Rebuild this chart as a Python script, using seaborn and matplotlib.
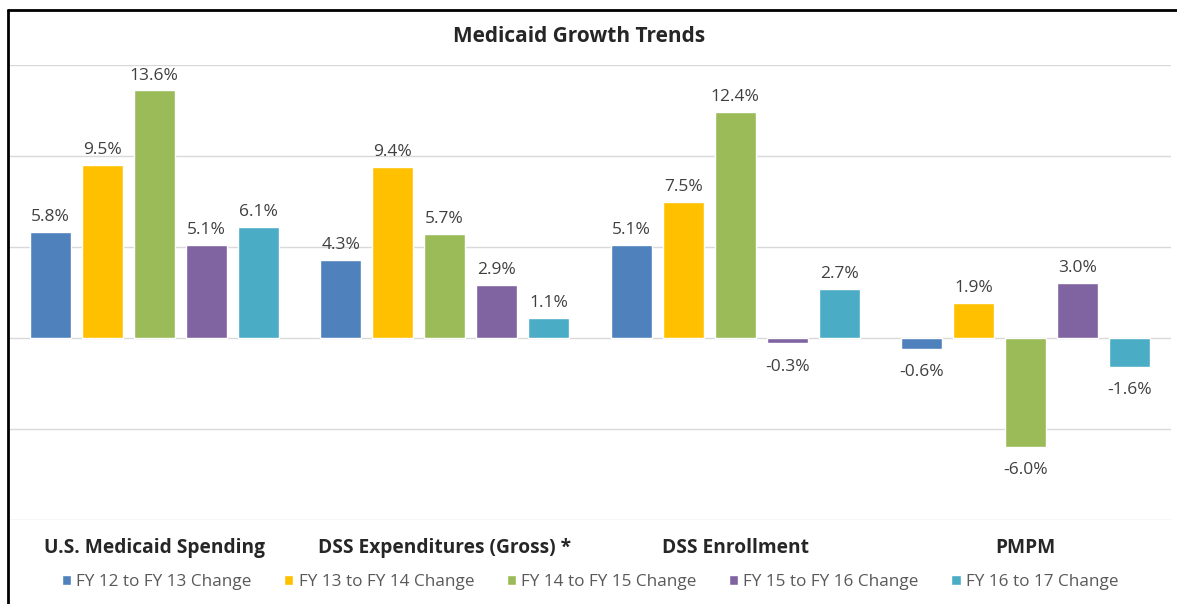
import pandas as pd
import matplotlib
matplotlib.use("Agg")
import matplotlib.pyplot as plt
from matplotlib.lines import Line2D
import seaborn as sns

# Données
categories = ["U.S. Medicaid Spending", "DSS Expenditures (Gross) *", "DSS Enrollment", "PMPM"]
periods = ["FY 12 to FY 13 Change", "FY 13 to FY 14 Change", "FY 14 to FY 15 Change",
           "FY 15 to FY 16 Change", "FY 16 to 17 Change"]
fy12_13 = [5.8, 4.3, 5.1, -0.6]
fy13_14 = [9.5, 9.4, 7.5, 1.9]
fy14_15 = [13.6, 5.7, 12.4, -6.0]
fy15_16 = [5.1, 2.9, -0.3, 3.0]
fy16_17 = [6.1, 1.1, 2.7, -1.6]
colors = ["#4F81BD", "#FFC000", "#9BBB59", "#8064A2", "#4BACC6"]

series = [fy12_13, fy13_14, fy14_15, fy15_16, fy16_17]
rows = []
for p, vals in zip(periods, series):
    for c, v in zip(categories, vals):
        rows.append({"category": c, "period": p, "value": v})
df = pd.DataFrame(rows)

sns.set_style("white")
plt.rcParams["font.family"] = ["Open Sans", "DejaVu Sans"]

W, H = 1177, 604
fig = plt.figure(figsize=(W / 100, H / 100), dpi=100)
ax = fig.add_axes([9 / W, 1 - 520 / H, (1171 - 9) / W, (520 - 65) / H])

sns.barplot(data=df, x="category", y="value", hue="period", order=categories,
            hue_order=periods, palette=colors, saturation=1, width=0.894, gap=0.21,
            ax=ax, legend=True)

# Étiquettes de données (au-dessus pour les positifs, plus bas pour les négatifs)
for cont, vals in zip(ax.containers, series):
    pos = [f"{v:.1f}%" if v >= 0 else "" for v in vals]
    neg = [f"{v:.1f}%" if v < 0 else "" for v in vals]
    ax.bar_label(cont, labels=pos, padding=5, fontsize=12.5, color="#404040")
    ax.bar_label(cont, labels=neg, padding=11, fontsize=12.5, color="#404040")

ax.set_ylim(-10, 15)
ax.set_xlim(-0.5, 3.5)
ax.set_yticks([-10, -5, 0, 5, 10, 15])
ax.set_yticklabels([])
ax.tick_params(axis="y", length=0)
ax.tick_params(axis="x", length=0, pad=13)
ax.yaxis.grid(True, color="#D9D9D9", linewidth=1)
ax.set_axisbelow(True)
for s in ax.spines.values():
    s.set_visible(False)
ax.set_xlabel("")
ax.set_ylabel("")
for lab in ax.get_xticklabels():
    lab.set_fontweight("bold")
    lab.set_fontsize(13.8)
    lab.set_color("#262626")

# Titre
fig.text(579 / W, 1 - 36 / H, "Medicaid Growth Trends", ha="center", va="center",
         fontsize=15, fontweight="bold", color="#262626")

# Légende en bas
handles, labels = ax.get_legend_handles_labels()
ax.get_legend().remove()
fig.legend(handles, labels, loc="center", bbox_to_anchor=(590 / W, 1 - 582 / H), ncol=5,
           frameon=False, fontsize=12.3, handlelength=0.55, handleheight=0.55,
           handletextpad=0.3, columnspacing=1.9, labelcolor="#595959")

# Cadre du graphique
fig.add_artist(Line2D([8 / W, 8 / W], [0, 1 - 10 / H], transform=fig.transFigure,
                      color="black", linewidth=2))
fig.add_artist(Line2D([8 / W, 1], [1 - 10 / H, 1 - 10 / H], transform=fig.transFigure,
                      color="black", linewidth=2))

fig.savefig("out.png", dpi=100)
